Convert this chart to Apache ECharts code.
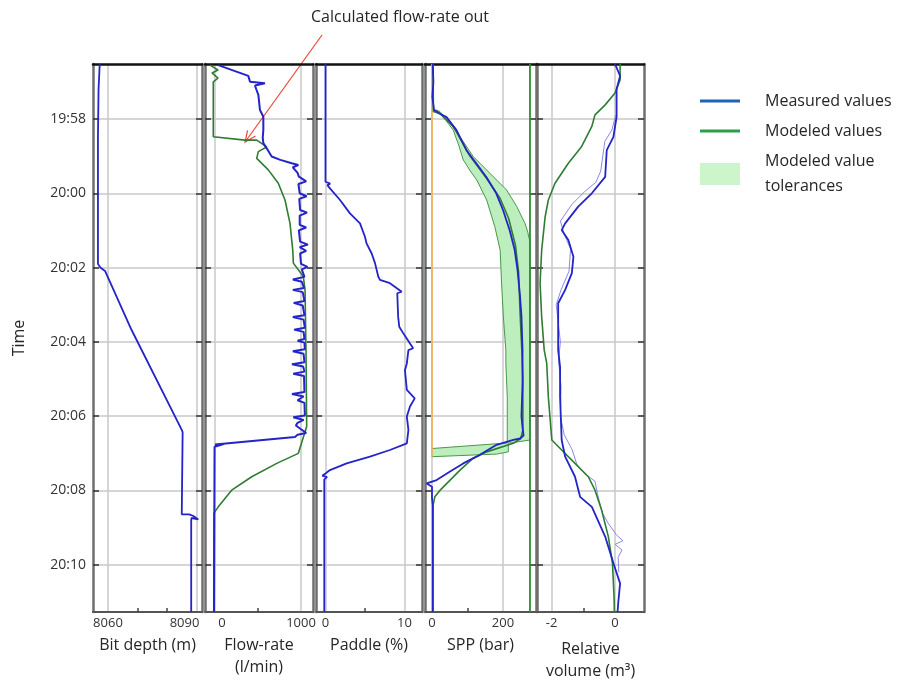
<!DOCTYPE html>
<html>
<head>
<meta charset="utf-8">
<script src="https://cdn.jsdelivr.net/npm/echarts@6/dist/echarts.min.js"></script>
<style>
  html, body { margin: 0; padding: 0; background: #fff; }
  #chart { width: 908px; height: 682px; }
</style>
</head>
<body>
<div id="chart"></div>
<script>
// Time is stored as minutes after 19:00 (60 = 20:00).
const timeRange = [56.52, 71.27];
const timeTicks = [58, 60, 62, 64, 66, 68, 70];

// Track scales: labelled ticks and the small unlabelled ticks between them
const depthTicks = [8060, 8090];
const depthMinor = [8070, 8080];
const flowTicks = [0, 1000];
const flowMinor = [500];
const paddleTicks = [0, 10];
const paddleMinor = [5];
const sppTicks = [0, 200];
const sppMinor = [100];
const volTicks = [-2, 0];
const volMinor = [-1];

// [value, minute]
const bitDepth = [[8057.2,56.52],[8056.8,57.2],[8056.6,58.5],[8056.6,61.9],[8057.4,62.0],[8059.0,62.09],[8068.0,63.68],[8085.0,66.37],[8085.3,66.43],[8085.0,66.48],[8085.0,68.64],[8087.5,68.64],[8088.8,68.68],[8090.6,68.78],[8088.3,68.74],[8088.2,68.8],[8088.2,71.27]];

const flowMeasured = [[38,56.55],[387,56.84],[407,57.0],[581,57.04],[465,57.1],[480,57.2],[504,57.35],[523,57.76],[562,57.94],[562,58.3],[555,58.5],[562,58.65],[601,58.79],[659,59.01],[760,59.1],[892,59.19],[969,59.24],[905,59.3],[960,59.45],[975,59.55],[1060,59.68],[970,59.75],[985,60.0],[1065,60.08],[980,60.15],[990,60.45],[1070,60.52],[985,60.6],[985,60.85],[1060,60.92],[975,61.0],[990,61.3],[1080,61.38],[985,61.45],[1060,61.55],[990,61.62],[1000,61.9],[1075,61.98],[1010,62.05],[1040,62.25],[905,62.32],[1010,62.38],[1035,62.55],[905,62.6],[1020,62.66],[1040,62.9],[915,62.95],[1020,63.02],[1040,63.28],[905,63.33],[1030,63.4],[1045,63.62],[920,63.67],[1030,63.73],[1040,63.92],[960,63.97],[1040,64.02],[1045,64.2],[905,64.25],[1030,64.32],[1040,64.55],[895,64.6],[1025,64.66],[1040,64.8],[910,64.86],[1035,64.92],[1040,65.35],[895,65.4],[1030,65.47],[1050,65.52],[960,65.57],[1040,65.64],[1045,65.98],[910,66.03],[1030,66.1],[960,66.18],[940,66.25],[1000,66.35],[1060,66.45],[960,66.5],[930,66.56],[0,66.76],[110,66.74],[120,66.79],[-5,66.82],[-12,66.86],[-12,71.27]];

const flowModeled = [[-58,56.55],[35,56.68],[-35,56.76],[35,56.9],[-20,57.0],[-20,58.48],[0,58.48],[349,58.57],[485,58.57],[601,58.75],[504,58.88],[485,59.06],[620,59.37],[736,59.73],[814,60.18],[872,60.81],[904,61.53],[911,61.88],[1027,62.24],[1047,62.6],[1058,64.22],[1066,66.28],[969,67.0],[718,67.27],[427,67.63],[194,67.99],[38,68.44],[-12,68.61],[-12,71.27]];

const paddle = [[0,56.52],[0,59.69],[0.6,59.74],[0.25,59.78],[0.57,59.87],[1.84,60.18],[3.1,60.54],[4.37,60.81],[5.0,61.17],[5.2,61.35],[5.85,61.62],[6.27,61.88],[6.68,62.24],[6.9,62.33],[8.16,62.42],[9.65,62.65],[9.09,62.69],[9.2,63.32],[9.34,63.59],[9.85,63.77],[10.7,64.04],[11.1,64.17],[10.5,64.22],[10.3,64.58],[10.06,64.76],[10.3,65.29],[11.3,65.52],[10.7,65.74],[10.3,66.01],[10.5,66.37],[10.3,66.73],[8.16,66.91],[5.63,67.09],[2.68,67.27],[0.57,67.45],[0,67.54],[-0.4,67.6],[0.2,67.64],[-0.15,67.7],[-0.15,71.27]];

const sppMeasured = [[2,56.52],[4,57.0],[1,57.4],[5.6,57.75],[22.5,57.86],[41,57.95],[69,58.3],[97,58.84],[125,59.2],[153,59.56],[181,60.0],[200,60.45],[219,61.0],[233,61.53],[241,62.07],[248,62.78],[252,63.32],[255,64.22],[255,65.11],[252,66.0],[255,66.3],[258,66.52],[248,66.6],[229,66.64],[182,66.77],[135,67.04],[88,67.27],[51,67.49],[13,67.72],[-15,67.81],[0,67.9],[0,68.2],[2,68.4],[2,71.27]];

const sppModeled = [[3,56.52],[4,57.8],[22.5,57.86],[60,58.2],[107,59.0],[154,59.6],[192,60.14],[216,60.68],[235,61.4],[244,62.12],[248,63.2],[253,64.22],[256,65.0],[256,66.37],[250,66.6],[229,66.73],[154,66.96],[116,67.13],[79,67.45],[51,67.72],[23,67.99],[8,68.17],[3,68.4],[3,71.27]];

// Tolerance envelope around the modeled standpipe pressure
const sppBandLow = [[12,57.76],[22.5,57.85],[40,58.05],[60,58.3],[75,58.7],[88,59.1],[108,59.4],[126,59.64],[154,60.18],[177,60.9],[192,61.53],[196,62.42],[201,63.32],[208,64.22],[208,64.58],[212,65.48],[212,66.37],[212,66.72],[0,66.87],[0,67.09]];
const sppBandHigh = [[12,57.76],[22.5,57.8],[50,58.1],[79,58.48],[116,59.01],[163,59.46],[210,59.91],[239,60.36],[262,60.81],[270,61.05],[272,61.15],[274,61.22],[276,61.35],[276,66.64],[215,66.73],[215,66.96],[182,67.02]];
const sppLimit = [[276,56.52],[276,71.27]];
const sppZero = [[0,56.52],[0,67.09]];

const volMeasured = [[0,56.52],[0.16,56.84],[0.05,57.2],[0.05,57.94],[-0.05,58.48],[-0.26,58.84],[-0.31,59.56],[-0.73,60.0],[-1.16,60.36],[-1.57,60.81],[-1.68,60.99],[-1.47,61.26],[-1.31,61.71],[-1.36,62.15],[-1.57,62.6],[-1.79,62.96],[-1.79,64.22],[-1.73,64.68],[-1.73,65.48],[-1.68,66.64],[-1.57,67.09],[-1.26,67.63],[-1.1,68.17],[-0.73,68.44],[-0.31,69.24],[-0.05,69.96],[0.16,70.5],[0.1,71.04],[0.08,71.27]];
const volMeasuredRaw = [[0.02,57.9],[-0.1,58.3],[-0.32,58.6],[-0.45,59.4],[-0.6,59.7],[-0.95,59.95],[-1.36,60.3],[-1.72,60.75],[-1.6,61.1],[-1.4,61.5],[-1.45,62.1],[-1.7,62.6],[-1.85,63.0],[-1.8,63.4],[-1.72,64.0],[-1.78,64.5],[-1.7,65.2],[-1.72,66.0],[-1.6,66.5],[-1.35,66.9],[-1.2,67.3],[-0.95,67.55],[-0.63,67.75],[-0.55,68.1],[-0.4,68.6],[-0.2,68.9],[0.05,69.2],[0.25,69.35],[0.0,69.45],[0.22,69.6],[0.1,69.8],[0.12,70.2]];
const volModeled = [[0.16,56.52],[0.16,56.95],[0,57.3],[-0.31,57.62],[-0.63,57.89],[-0.73,58.2],[-1.05,58.74],[-1.47,59.19],[-1.89,59.73],[-2.1,60.18],[-2.2,60.63],[-2.31,61.53],[-2.36,62.42],[-2.31,63.32],[-2.23,64.22],[-2.15,64.58],[-2.1,65.48],[-1.99,66.64],[-1.68,66.91],[-1.26,67.27],[-0.84,67.63],[-0.63,67.99],[-0.42,68.53],[-0.21,69.24],[-0.08,69.96],[-0.03,70.86],[-0.02,71.27]];

// Point on the flow-rate track the annotation arrow points at: [l/min, minute]
const arrowTarget = [350, 58.62];

const FONT = '"Open Sans", "Noto Sans", sans-serif';
const BLUE = '#2424c8';
const GREEN = '#2f7d32';
const GRID_COLOR = '#c9c9c9';
const TRACK_TOP = 64, TRACK_HEIGHT = 548;

const tracks = [
  { left: 93,  right: 202, min: 8054.92, max: 8091.86, ticks: depthTicks,  minor: depthMinor,  name: 'Bit depth (m)', nameGap: 18, shift: { 8090: 'sl' } },
  { left: 205, right: 313, min: -116.3,  max: 1139.5,  ticks: flowTicks,   minor: flowMinor,   name: 'Flow-rate\n(l/min)', nameGap: 18, shift: { 0: 'sr' } },
  { left: 316, right: 422, min: -1.2,    max: 12.22,   ticks: paddleTicks, minor: paddleMinor, name: 'Paddle (%)', nameGap: 18, shift: {} },
  { left: 425, right: 536, min: -19.7,   max: 292.96,  ticks: sppTicks,    minor: sppMinor,    name: 'SPP (bar)', nameGap: 18, shift: {} },
  { left: 537, right: 644, min: -2.457,  max: 0.913,   ticks: volTicks,    minor: volMinor,    name: 'Relative\nvolume (m³)', nameGap: 26, shift: {} }
];

function clock(v) {
  const h = 19 + Math.floor(v / 60);
  const m = Math.round(v % 60);
  return h + ':' + (m < 10 ? '0' + m : m);
}

const grids = [], xAxes = [], yAxes = [];
tracks.forEach((t, k) => {
  grids.push({
    left: t.left, top: TRACK_TOP, width: t.right - t.left, height: TRACK_HEIGHT,
    containLabel: false, outerBoundsMode: 'none'
  });
  // bottom scale with labels and vertical grid lines
  xAxes.push({
    gridIndex: k, type: 'value', min: t.min, max: t.max, position: 'bottom',
    axisLine: { show: true, onZero: false, lineStyle: { color: '#555', width: 2 } },
    axisTick: { show: false, customValues: t.ticks },
    axisLabel: {
      customValues: t.ticks, margin: 5, fontSize: 13, color: '#333', fontFamily: FONT,
      formatter: (v) => t.shift[v] ? '{' + t.shift[v] + '|' + v + '}' : String(v),
      rich: {
        sl: { padding: [0, 24, 0, 0], fontSize: 13, color: '#333', fontFamily: FONT },
        sr: { padding: [0, 0, 0, 14], fontSize: 13, color: '#333', fontFamily: FONT }
      }
    },
    splitLine: { show: true, lineStyle: { color: GRID_COLOR, width: 1.5 } },
    name: t.name, nameLocation: 'middle', nameGap: t.nameGap,
    nameTextStyle: { fontSize: 16, color: '#262626', fontFamily: FONT, lineHeight: 22 }
  });
  // small ticks between the labelled values
  xAxes.push({
    gridIndex: k, type: 'value', min: t.min, max: t.max, position: 'bottom',
    axisLine: { show: false },
    axisTick: { show: true, inside: true, length: 4, customValues: t.minor, lineStyle: { color: '#444', width: 1.5 } },
    axisLabel: { show: false }, splitLine: { show: false }
  });
  // top frame line
  xAxes.push({
    gridIndex: k, type: 'value', min: t.min, max: t.max, position: 'top',
    axisLine: { show: true, onZero: false, lineStyle: { color: '#111', width: 2.5 } },
    axisTick: { show: false }, axisLabel: { show: false }, splitLine: { show: false }
  });
  const frame = { show: true, onZero: false, lineStyle: { color: '#6f6f6f', width: 2.5 } };
  const ticks = { show: true, inside: true, length: 6, customValues: timeTicks, lineStyle: { color: '#333', width: 1.5 } };
  yAxes.push({
    gridIndex: k, type: 'value', inverse: true, min: timeRange[0], max: timeRange[1], position: 'left',
    axisLine: frame, axisTick: ticks,
    axisLabel: { show: k === 0, customValues: timeTicks, formatter: clock, margin: 7, fontSize: 14, color: '#333', fontFamily: FONT },
    splitLine: { show: true, lineStyle: { color: GRID_COLOR, width: 1.5 } },
    name: k === 0 ? 'Time' : '', nameLocation: 'middle', nameRotate: 90, nameGap: 66,
    nameTextStyle: { fontSize: 16, color: '#262626', fontFamily: FONT }
  });
  yAxes.push({
    gridIndex: k, type: 'value', inverse: true, min: timeRange[0], max: timeRange[1], position: 'right',
    axisLine: frame, axisTick: ticks, axisLabel: { show: false }, splitLine: { show: false }
  });
});

function track(k, data, color, width, z) {
  return {
    type: 'line', xAxisIndex: 3 * k, yAxisIndex: 2 * k, data: data,
    symbol: 'none', showSymbol: false, silent: true, z: z || 3,
    lineStyle: { color: color, width: width }
  };
}

const series = [
  track(0, bitDepth, BLUE, 1.8),
  track(1, flowModeled, GREEN, 1.6),
  track(1, flowMeasured, BLUE, 2, 4),
  track(2, paddle, BLUE, 1.8),
  {
    type: 'custom', xAxisIndex: 9, yAxisIndex: 6, silent: true, z: 1,
    data: [[0, 60]],
    renderItem: function (params, api) {
      const pts = sppBandLow.map(p => api.coord(p))
        .concat(sppBandHigh.slice().reverse().map(p => api.coord(p)));
      return { type: 'polygon', shape: { points: pts }, style: { fill: '#bdeebd', stroke: '#4c964c', lineWidth: 1 } };
    }
  },
  track(3, sppZero, '#efb565', 1.8, 2),
  track(3, sppLimit, '#2f8a35', 1.8, 2),
  track(3, sppModeled, GREEN, 1.6),
  track(3, sppMeasured, BLUE, 1.8, 4),
  track(4, volMeasuredRaw, '#8a8ae6', 1, 2),
  track(4, volModeled, GREEN, 1.6),
  track(4, volMeasured, BLUE, 1.8, 4)
];

const chart = echarts.init(document.getElementById('chart'), null, { renderer: 'canvas' });
chart.setOption({
  animation: false,
  backgroundColor: '#ffffff',
  textStyle: { fontFamily: FONT },
  grid: grids, xAxis: xAxes, yAxis: yAxes, series: series
});

// Annotation arrow and key
const arrowStart = [322, 35];
const tip = chart.convertToPixel({ seriesIndex: 1 }, arrowTarget);
const ang = Math.atan2(tip[1] - arrowStart[1], tip[0] - arrowStart[0]);
const head = 12, spread = 0.42;
const h1 = [tip[0] - head * Math.cos(ang - spread), tip[1] - head * Math.sin(ang - spread)];
const h2 = [tip[0] - head * Math.cos(ang + spread), tip[1] - head * Math.sin(ang + spread)];
const textStyle = (s, x, y, align) => ({
  type: 'text', x: x, y: y, silent: true,
  style: { text: s, fontSize: 16, fontFamily: FONT, fill: '#262626', align: align || 'left', verticalAlign: 'middle' }
});

chart.setOption({
  graphic: [
    textStyle('Calculated flow-rate out', 400, 17, 'center'),
    { type: 'line', silent: true, shape: { x1: arrowStart[0], y1: arrowStart[1], x2: tip[0], y2: tip[1] }, style: { stroke: '#e8483a', lineWidth: 1.2 } },
    { type: 'polyline', silent: true, shape: { points: [h1, tip, h2] }, style: { stroke: '#e8483a', lineWidth: 1.2, fill: null } },
    { type: 'line', silent: true, shape: { x1: 700, y1: 101, x2: 740, y2: 101 }, style: { stroke: '#1f63b5', lineWidth: 3 } },
    textStyle('Measured values', 765, 101),
    { type: 'line', silent: true, shape: { x1: 700, y1: 131, x2: 740, y2: 131 }, style: { stroke: '#27a04a', lineWidth: 3 } },
    textStyle('Modeled values', 765, 131),
    { type: 'rect', silent: true, shape: { x: 700, y: 163, width: 40, height: 22 }, style: { fill: '#ccf5cc' } },
    textStyle('Modeled value', 765, 161),
    textStyle('tolerances', 765, 186)
  ]
});
</script>
</body>
</html>
